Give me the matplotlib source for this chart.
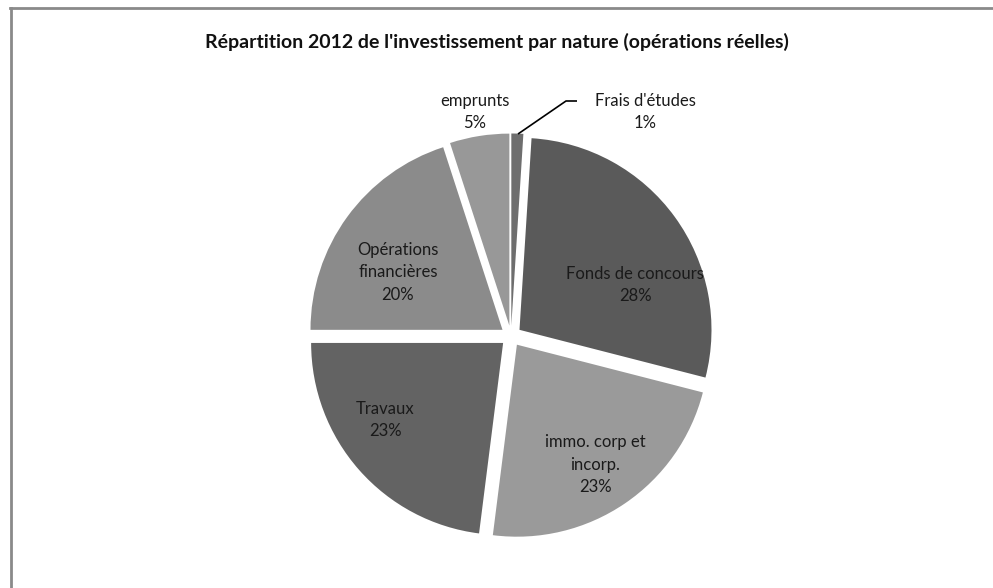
import matplotlib.pyplot as plt
from matplotlib.lines import Line2D

plt.rcParams['font.family'] = ['Lato', 'DejaVu Sans']

# Répartition de l'investissement 2012 (en %)
labels = ["Frais d'études", "Fonds de concours", "immo. corp et\nincorp.",
          "Travaux", "Opérations\nfinancières", "emprunts"]
values = [1, 28, 23, 23, 20, 5]
colors = ['#6e6e6e', '#5a5a5a', '#9a9a9a', '#636363', '#8b8b8b', '#989898']

W, H = 993, 588
fig = plt.figure(figsize=(W / 100, H / 100), dpi=100)
ax = fig.add_axes([0, 0, 1, 1])

cx, cy, r = 511, H - 336, 192
# explode est en unités de données (pixels ici)
wedges, _ = ax.pie(values, colors=colors, startangle=90, counterclock=False,
                   explode=[10.5] * len(values), center=(cx, cy), radius=r,
                   wedgeprops=dict(linewidth=0))
ax.set_xlim(0, W)
ax.set_ylim(0, H)
ax.set_aspect('equal')
ax.axis('off')

# positions des étiquettes (pixels, depuis le haut)
label_pos = [(645, 112), (635, 285), (595, 465), (385, 420), (398, 272), (475, 112)]
for lab, v, (x, y) in zip(labels, values, label_pos):
    ax.text(x, H - y, f"{lab}\n{v}%", ha='center', va='center', fontsize=12,
            color='#1a1a1a', linespacing=1.5)

# ligne de rappel pour le petit secteur
ax.plot([518, 566, 577], [H - 134, H - 101, H - 101], color='black', lw=1.2,
        solid_capstyle='butt')

ax.text(497, H - 42, "Répartition 2012 de l'investissement par nature (opérations réelles)",
        ha='center', va='center', fontsize=14, fontweight='bold', color='#111111')

# cadre gris (haut et gauche)
fig.add_artist(Line2D([10.5 / W, 10.5 / W], [0, 1 - 7.5 / H], transform=fig.transFigure,
                      color='#8a8a8a', lw=2))
fig.add_artist(Line2D([10 / W, 1], [1 - 7.5 / H, 1 - 7.5 / H], transform=fig.transFigure,
                      color='#8a8a8a', lw=2))

fig.savefig('out.png', dpi=100)
